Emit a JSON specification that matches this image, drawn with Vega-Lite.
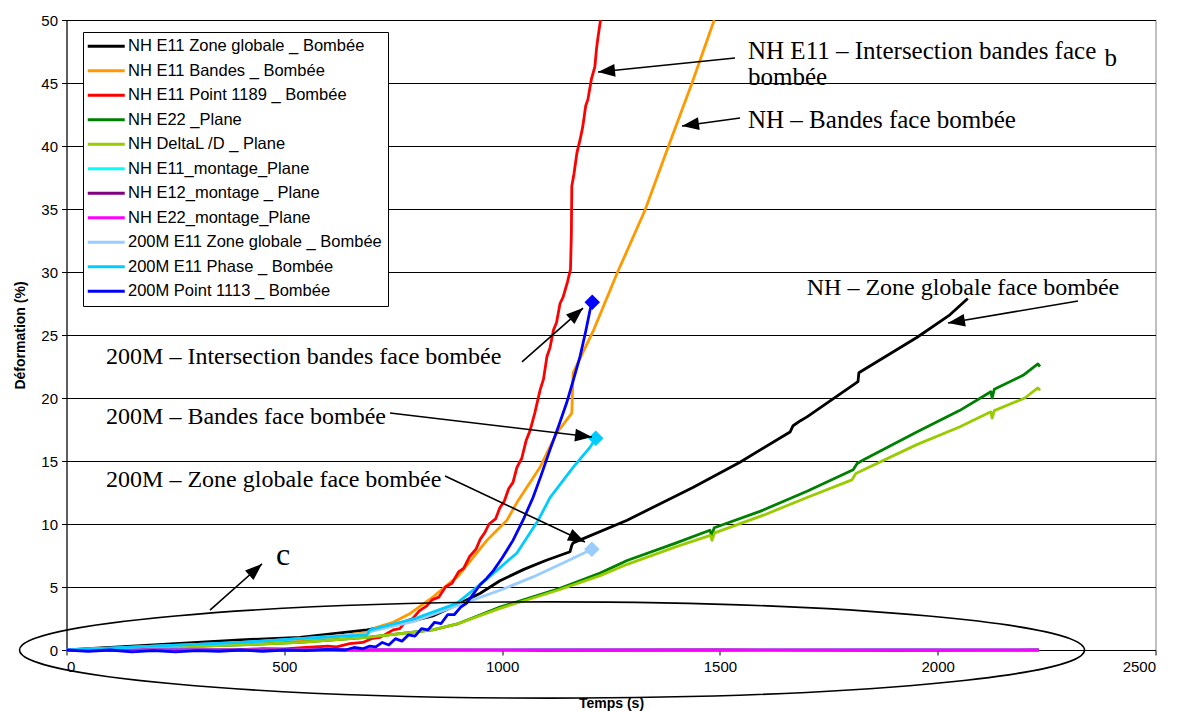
{
  "$schema": "https://vega.github.io/schema/vega-lite/v6.json",
  "width": 1089,
  "height": 630,
  "autosize": "none",
  "padding": {"left": 66.5, "top": 20, "right": 28.5, "bottom": 61},
  "background": "white",
  "config": {
    "view": {"stroke": "#808080", "strokeWidth": 1},
    "font": "Liberation Sans",
    "axis": {
      "domainColor": "#000000", "tickColor": "#000000", "labelColor": "#000000", "titleColor": "#000000",
      "labelFont": "Liberation Sans", "titleFont": "Liberation Sans", "labelFontSize": 15,
      "titleFontSize": 14, "titleFontWeight": "bold", "tickSize": 5, "gridColor": "#000000",
      "gridOpacity": 1, "gridWidth": 1, "domainWidth": 1, "labelPadding": 4
    }
  },
  "datasets": {
    "series": [
      {"s":"NH E11 Zone globale _ Bombée","t":0,"v":0},{"s":"NH E11 Zone globale _ Bombée","t":100,"v":0.2},{"s":"NH E11 Zone globale _ Bombée","t":200,"v":0.4},{"s":"NH E11 Zone globale _ Bombée","t":300,"v":0.6},{"s":"NH E11 Zone globale _ Bombée","t":400,"v":0.8},{"s":"NH E11 Zone globale _ Bombée","t":536,"v":1.0},{"s":"NH E11 Zone globale _ Bombée","t":690,"v":1.6},{"s":"NH E11 Zone globale _ Bombée","t":781,"v":2.2},{"s":"NH E11 Zone globale _ Bombée","t":841,"v":2.7},{"s":"NH E11 Zone globale _ Bombée","t":903,"v":3.7},{"s":"NH E11 Zone globale _ Bombée","t":950,"v":4.5},{"s":"NH E11 Zone globale _ Bombée","t":995,"v":5.5},{"s":"NH E11 Zone globale _ Bombée","t":1050,"v":6.4},{"s":"NH E11 Zone globale _ Bombée","t":1100,"v":7.1},{"s":"NH E11 Zone globale _ Bombée","t":1156,"v":7.8},{"s":"NH E11 Zone globale _ Bombée","t":1160,"v":8.3},{"s":"NH E11 Zone globale _ Bombée","t":1163,"v":8.5},{"s":"NH E11 Zone globale _ Bombée","t":1287,"v":10.3},{"s":"NH E11 Zone globale _ Bombée","t":1438,"v":12.9},{"s":"NH E11 Zone globale _ Bombée","t":1546,"v":14.9},{"s":"NH E11 Zone globale _ Bombée","t":1661,"v":17.3},{"s":"NH E11 Zone globale _ Bombée","t":1668,"v":17.8},{"s":"NH E11 Zone globale _ Bombée","t":1685,"v":18.2},{"s":"NH E11 Zone globale _ Bombée","t":1700,"v":18.5},{"s":"NH E11 Zone globale _ Bombée","t":1817,"v":21.3},{"s":"NH E11 Zone globale _ Bombée","t":1819,"v":22.0},{"s":"NH E11 Zone globale _ Bombée","t":1952,"v":24.8},{"s":"NH E11 Zone globale _ Bombée","t":2028,"v":26.6},{"s":"NH E11 Zone globale _ Bombée","t":2069,"v":27.9},
      {"s":"NH E11 Bandes _ Bombée","t":0,"v":0},{"s":"NH E11 Bandes _ Bombée","t":100,"v":0.1},{"s":"NH E11 Bandes _ Bombée","t":200,"v":0.25},{"s":"NH E11 Bandes _ Bombée","t":300,"v":0.4},{"s":"NH E11 Bandes _ Bombée","t":400,"v":0.55},{"s":"NH E11 Bandes _ Bombée","t":536,"v":0.8},{"s":"NH E11 Bandes _ Bombée","t":600,"v":1.0},{"s":"NH E11 Bandes _ Bombée","t":690,"v":1.4},{"s":"NH E11 Bandes _ Bombée","t":712,"v":1.8},{"s":"NH E11 Bandes _ Bombée","t":750,"v":2.2},{"s":"NH E11 Bandes _ Bombée","t":789,"v":2.9},{"s":"NH E11 Bandes _ Bombée","t":841,"v":4.2},{"s":"NH E11 Bandes _ Bombée","t":900,"v":5.9},{"s":"NH E11 Bandes _ Bombée","t":965,"v":8.7},{"s":"NH E11 Bandes _ Bombée","t":1011,"v":10.3},{"s":"NH E11 Bandes _ Bombée","t":1034,"v":11.7},{"s":"NH E11 Bandes _ Bombée","t":1087,"v":14.5},{"s":"NH E11 Bandes _ Bombée","t":1125,"v":17.2},{"s":"NH E11 Bandes _ Bombée","t":1160,"v":18.8},{"s":"NH E11 Bandes _ Bombée","t":1163,"v":22.0},{"s":"NH E11 Bandes _ Bombée","t":1209,"v":25.3},{"s":"NH E11 Bandes _ Bombée","t":1264,"v":29.9},{"s":"NH E11 Bandes _ Bombée","t":1328,"v":34.9},{"s":"NH E11 Bandes _ Bombée","t":1381,"v":39.9},{"s":"NH E11 Bandes _ Bombée","t":1436,"v":45.0},{"s":"NH E11 Bandes _ Bombée","t":1487,"v":50.0},
      {"s":"NH E11 Point 1189 _ Bombée","t":0,"v":0},{"s":"NH E11 Point 1189 _ Bombée","t":100,"v":0.02},{"s":"NH E11 Point 1189 _ Bombée","t":200,"v":0},{"s":"NH E11 Point 1189 _ Bombée","t":300,"v":0.05},{"s":"NH E11 Point 1189 _ Bombée","t":400,"v":0.03},{"s":"NH E11 Point 1189 _ Bombée","t":450,"v":0.1},{"s":"NH E11 Point 1189 _ Bombée","t":500,"v":0.08},{"s":"NH E11 Point 1189 _ Bombée","t":550,"v":0.2},{"s":"NH E11 Point 1189 _ Bombée","t":600,"v":0.3},{"s":"NH E11 Point 1189 _ Bombée","t":620,"v":0.25},{"s":"NH E11 Point 1189 _ Bombée","t":650,"v":0.5},{"s":"NH E11 Point 1189 _ Bombée","t":680,"v":0.6},{"s":"NH E11 Point 1189 _ Bombée","t":700,"v":0.9},{"s":"NH E11 Point 1189 _ Bombée","t":720,"v":1.0},{"s":"NH E11 Point 1189 _ Bombée","t":735,"v":1.3},{"s":"NH E11 Point 1189 _ Bombée","t":750,"v":1.6},{"s":"NH E11 Point 1189 _ Bombée","t":765,"v":1.7},{"s":"NH E11 Point 1189 _ Bombée","t":780,"v":2.3},{"s":"NH E11 Point 1189 _ Bombée","t":795,"v":2.5},{"s":"NH E11 Point 1189 _ Bombée","t":810,"v":3.1},{"s":"NH E11 Point 1189 _ Bombée","t":827,"v":3.5},{"s":"NH E11 Point 1189 _ Bombée","t":840,"v":4.0},{"s":"NH E11 Point 1189 _ Bombée","t":855,"v":4.2},{"s":"NH E11 Point 1189 _ Bombée","t":870,"v":5.0},{"s":"NH E11 Point 1189 _ Bombée","t":885,"v":5.3},{"s":"NH E11 Point 1189 _ Bombée","t":900,"v":6.2},{"s":"NH E11 Point 1189 _ Bombée","t":912,"v":6.5},{"s":"NH E11 Point 1189 _ Bombée","t":925,"v":7.4},{"s":"NH E11 Point 1189 _ Bombée","t":940,"v":8.0},{"s":"NH E11 Point 1189 _ Bombée","t":950,"v":8.8},{"s":"NH E11 Point 1189 _ Bombée","t":960,"v":9.3},{"s":"NH E11 Point 1189 _ Bombée","t":970,"v":10.0},{"s":"NH E11 Point 1189 _ Bombée","t":985,"v":10.4},{"s":"NH E11 Point 1189 _ Bombée","t":995,"v":11.3},{"s":"NH E11 Point 1189 _ Bombée","t":1005,"v":11.8},{"s":"NH E11 Point 1189 _ Bombée","t":1015,"v":12.8},{"s":"NH E11 Point 1189 _ Bombée","t":1025,"v":13.3},{"s":"NH E11 Point 1189 _ Bombée","t":1034,"v":14.5},{"s":"NH E11 Point 1189 _ Bombée","t":1045,"v":15.2},{"s":"NH E11 Point 1189 _ Bombée","t":1055,"v":16.6},{"s":"NH E11 Point 1189 _ Bombée","t":1064,"v":17.4},{"s":"NH E11 Point 1189 _ Bombée","t":1075,"v":18.8},{"s":"NH E11 Point 1189 _ Bombée","t":1087,"v":20.6},{"s":"NH E11 Point 1189 _ Bombée","t":1095,"v":21.5},{"s":"NH E11 Point 1189 _ Bombée","t":1103,"v":23.3},{"s":"NH E11 Point 1189 _ Bombée","t":1110,"v":24.0},{"s":"NH E11 Point 1189 _ Bombée","t":1118,"v":25.4},{"s":"NH E11 Point 1189 _ Bombée","t":1125,"v":26.0},{"s":"NH E11 Point 1189 _ Bombée","t":1133,"v":27.5},{"s":"NH E11 Point 1189 _ Bombée","t":1140,"v":28.0},{"s":"NH E11 Point 1189 _ Bombée","t":1150,"v":29.2},{"s":"NH E11 Point 1189 _ Bombée","t":1157,"v":30.2},{"s":"NH E11 Point 1189 _ Bombée","t":1159,"v":33.0},{"s":"NH E11 Point 1189 _ Bombée","t":1160,"v":36.8},{"s":"NH E11 Point 1189 _ Bombée","t":1165,"v":37.8},{"s":"NH E11 Point 1189 _ Bombée","t":1172,"v":39.5},{"s":"NH E11 Point 1189 _ Bombée","t":1179,"v":40.5},{"s":"NH E11 Point 1189 _ Bombée","t":1185,"v":41.5},{"s":"NH E11 Point 1189 _ Bombée","t":1192,"v":43.2},{"s":"NH E11 Point 1189 _ Bombée","t":1197,"v":43.7},{"s":"NH E11 Point 1189 _ Bombée","t":1205,"v":45.3},{"s":"NH E11 Point 1189 _ Bombée","t":1213,"v":46.3},{"s":"NH E11 Point 1189 _ Bombée","t":1217,"v":47.8},{"s":"NH E11 Point 1189 _ Bombée","t":1220,"v":48.6},{"s":"NH E11 Point 1189 _ Bombée","t":1226,"v":50.0},
      {"s":"NH E22 _Plane","t":0,"v":0},{"s":"NH E22 _Plane","t":200,"v":0.2},{"s":"NH E22 _Plane","t":400,"v":0.4},{"s":"NH E22 _Plane","t":536,"v":0.6},{"s":"NH E22 _Plane","t":690,"v":1.0},{"s":"NH E22 _Plane","t":841,"v":1.6},{"s":"NH E22 _Plane","t":900,"v":2.1},{"s":"NH E22 _Plane","t":995,"v":3.4},{"s":"NH E22 _Plane","t":1133,"v":4.9},{"s":"NH E22 _Plane","t":1225,"v":6.1},{"s":"NH E22 _Plane","t":1287,"v":7.1},{"s":"NH E22 _Plane","t":1400,"v":8.5},{"s":"NH E22 _Plane","t":1477,"v":9.5},{"s":"NH E22 _Plane","t":1481,"v":9.1},{"s":"NH E22 _Plane","t":1487,"v":9.7},{"s":"NH E22 _Plane","t":1592,"v":11.0},{"s":"NH E22 _Plane","t":1700,"v":12.6},{"s":"NH E22 _Plane","t":1806,"v":14.3},{"s":"NH E22 _Plane","t":1815,"v":14.8},{"s":"NH E22 _Plane","t":1830,"v":15.1},{"s":"NH E22 _Plane","t":1952,"v":17.3},{"s":"NH E22 _Plane","t":2050,"v":19.0},{"s":"NH E22 _Plane","t":2122,"v":20.5},{"s":"NH E22 _Plane","t":2125,"v":20.0},{"s":"NH E22 _Plane","t":2130,"v":20.7},{"s":"NH E22 _Plane","t":2196,"v":21.8},{"s":"NH E22 _Plane","t":2230,"v":22.7},{"s":"NH E22 _Plane","t":2235,"v":22.5},
      {"s":"NH DeltaL /D _ Plane","t":0,"v":0},{"s":"NH DeltaL /D _ Plane","t":200,"v":0.2},{"s":"NH DeltaL /D _ Plane","t":400,"v":0.4},{"s":"NH DeltaL /D _ Plane","t":536,"v":0.6},{"s":"NH DeltaL /D _ Plane","t":690,"v":1.0},{"s":"NH DeltaL /D _ Plane","t":841,"v":1.6},{"s":"NH DeltaL /D _ Plane","t":900,"v":2.1},{"s":"NH DeltaL /D _ Plane","t":995,"v":3.3},{"s":"NH DeltaL /D _ Plane","t":1133,"v":4.8},{"s":"NH DeltaL /D _ Plane","t":1225,"v":5.9},{"s":"NH DeltaL /D _ Plane","t":1287,"v":6.8},{"s":"NH DeltaL /D _ Plane","t":1400,"v":8.2},{"s":"NH DeltaL /D _ Plane","t":1478,"v":9.1},{"s":"NH DeltaL /D _ Plane","t":1482,"v":8.7},{"s":"NH DeltaL /D _ Plane","t":1488,"v":9.3},{"s":"NH DeltaL /D _ Plane","t":1600,"v":10.7},{"s":"NH DeltaL /D _ Plane","t":1700,"v":12.1},{"s":"NH DeltaL /D _ Plane","t":1803,"v":13.5},{"s":"NH DeltaL /D _ Plane","t":1812,"v":14.0},{"s":"NH DeltaL /D _ Plane","t":1830,"v":14.3},{"s":"NH DeltaL /D _ Plane","t":1952,"v":16.3},{"s":"NH DeltaL /D _ Plane","t":2050,"v":17.7},{"s":"NH DeltaL /D _ Plane","t":2122,"v":18.9},{"s":"NH DeltaL /D _ Plane","t":2125,"v":18.4},{"s":"NH DeltaL /D _ Plane","t":2130,"v":19.0},{"s":"NH DeltaL /D _ Plane","t":2200,"v":20.0},{"s":"NH DeltaL /D _ Plane","t":2230,"v":20.8},{"s":"NH DeltaL /D _ Plane","t":2235,"v":20.6},
      {"s":"NH E11_montage_Plane","t":0,"v":0},{"s":"NH E11_montage_Plane","t":300,"v":0.02},{"s":"NH E11_montage_Plane","t":700,"v":0},{"s":"NH E11_montage_Plane","t":1100,"v":0.02},{"s":"NH E11_montage_Plane","t":1500,"v":0},{"s":"NH E11_montage_Plane","t":1900,"v":0.02},{"s":"NH E11_montage_Plane","t":2232,"v":0},
      {"s":"NH E12_montage _ Plane","t":0,"v":0},{"s":"NH E12_montage _ Plane","t":300,"v":-0.02},{"s":"NH E12_montage _ Plane","t":700,"v":0},{"s":"NH E12_montage _ Plane","t":1100,"v":-0.02},{"s":"NH E12_montage _ Plane","t":1500,"v":0},{"s":"NH E12_montage _ Plane","t":1900,"v":-0.02},{"s":"NH E12_montage _ Plane","t":2232,"v":0},
      {"s":"NH E22_montage_Plane","t":0,"v":0},{"s":"NH E22_montage_Plane","t":300,"v":0.01},{"s":"NH E22_montage_Plane","t":700,"v":0},{"s":"NH E22_montage_Plane","t":1100,"v":0.01},{"s":"NH E22_montage_Plane","t":1500,"v":0},{"s":"NH E22_montage_Plane","t":1900,"v":0.01},{"s":"NH E22_montage_Plane","t":2232,"v":0},
      {"s":"200M E11 Zone globale _ Bombée","t":0,"v":0},{"s":"200M E11 Zone globale _ Bombée","t":100,"v":0.15},{"s":"200M E11 Zone globale _ Bombée","t":200,"v":0.3},{"s":"200M E11 Zone globale _ Bombée","t":300,"v":0.45},{"s":"200M E11 Zone globale _ Bombée","t":400,"v":0.6},{"s":"200M E11 Zone globale _ Bombée","t":536,"v":0.9},{"s":"200M E11 Zone globale _ Bombée","t":690,"v":1.3},{"s":"200M E11 Zone globale _ Bombée","t":697,"v":1.45},{"s":"200M E11 Zone globale _ Bombée","t":800,"v":2.3},{"s":"200M E11 Zone globale _ Bombée","t":903,"v":3.6},{"s":"200M E11 Zone globale _ Bombée","t":1000,"v":4.8},{"s":"200M E11 Zone globale _ Bombée","t":1071,"v":5.8},{"s":"200M E11 Zone globale _ Bombée","t":1140,"v":6.9},{"s":"200M E11 Zone globale _ Bombée","t":1206,"v":8.0},
      {"s":"200M E11 Phase _ Bombée","t":0,"v":0},{"s":"200M E11 Phase _ Bombée","t":100,"v":0.15},{"s":"200M E11 Phase _ Bombée","t":200,"v":0.3},{"s":"200M E11 Phase _ Bombée","t":300,"v":0.45},{"s":"200M E11 Phase _ Bombée","t":400,"v":0.6},{"s":"200M E11 Phase _ Bombée","t":536,"v":0.9},{"s":"200M E11 Phase _ Bombée","t":690,"v":1.2},{"s":"200M E11 Phase _ Bombée","t":697,"v":1.6},{"s":"200M E11 Phase _ Bombée","t":800,"v":2.5},{"s":"200M E11 Phase _ Bombée","t":896,"v":3.7},{"s":"200M E11 Phase _ Bombée","t":964,"v":5.6},{"s":"200M E11 Phase _ Bombée","t":1034,"v":7.7},{"s":"200M E11 Phase _ Bombée","t":1083,"v":10.3},{"s":"200M E11 Phase _ Bombée","t":1110,"v":12.1},{"s":"200M E11 Phase _ Bombée","t":1163,"v":14.5},{"s":"200M E11 Phase _ Bombée","t":1202,"v":16.1},{"s":"200M E11 Phase _ Bombée","t":1215,"v":16.8},
      {"s":"200M Point 1113 _ Bombée","t":0,"v":0},{"s":"200M Point 1113 _ Bombée","t":50,"v":-0.1},{"s":"200M Point 1113 _ Bombée","t":100,"v":0},{"s":"200M Point 1113 _ Bombée","t":150,"v":-0.15},{"s":"200M Point 1113 _ Bombée","t":200,"v":-0.05},{"s":"200M Point 1113 _ Bombée","t":250,"v":-0.15},{"s":"200M Point 1113 _ Bombée","t":300,"v":-0.05},{"s":"200M Point 1113 _ Bombée","t":350,"v":-0.1},{"s":"200M Point 1113 _ Bombée","t":400,"v":0},{"s":"200M Point 1113 _ Bombée","t":450,"v":-0.1},{"s":"200M Point 1113 _ Bombée","t":500,"v":0},{"s":"200M Point 1113 _ Bombée","t":550,"v":-0.05},{"s":"200M Point 1113 _ Bombée","t":600,"v":0.05},{"s":"200M Point 1113 _ Bombée","t":640,"v":0},{"s":"200M Point 1113 _ Bombée","t":660,"v":0.2},{"s":"200M Point 1113 _ Bombée","t":680,"v":0.1},{"s":"200M Point 1113 _ Bombée","t":695,"v":0.3},{"s":"200M Point 1113 _ Bombée","t":710,"v":0.25},{"s":"200M Point 1113 _ Bombée","t":725,"v":0.6},{"s":"200M Point 1113 _ Bombée","t":740,"v":0.4},{"s":"200M Point 1113 _ Bombée","t":755,"v":0.9},{"s":"200M Point 1113 _ Bombée","t":770,"v":0.7},{"s":"200M Point 1113 _ Bombée","t":785,"v":1.2},{"s":"200M Point 1113 _ Bombée","t":800,"v":1.1},{"s":"200M Point 1113 _ Bombée","t":815,"v":1.7},{"s":"200M Point 1113 _ Bombée","t":830,"v":1.6},{"s":"200M Point 1113 _ Bombée","t":845,"v":2.2},{"s":"200M Point 1113 _ Bombée","t":860,"v":2.1},{"s":"200M Point 1113 _ Bombée","t":875,"v":2.8},{"s":"200M Point 1113 _ Bombée","t":890,"v":2.8},{"s":"200M Point 1113 _ Bombée","t":905,"v":3.4},{"s":"200M Point 1113 _ Bombée","t":918,"v":3.7},{"s":"200M Point 1113 _ Bombée","t":935,"v":4.5},{"s":"200M Point 1113 _ Bombée","t":950,"v":5.2},{"s":"200M Point 1113 _ Bombée","t":965,"v":5.7},{"s":"200M Point 1113 _ Bombée","t":980,"v":6.3},{"s":"200M Point 1113 _ Bombée","t":1000,"v":7.3},{"s":"200M Point 1113 _ Bombée","t":1025,"v":8.7},{"s":"200M Point 1113 _ Bombée","t":1048,"v":10.3},{"s":"200M Point 1113 _ Bombée","t":1071,"v":12.1},{"s":"200M Point 1113 _ Bombée","t":1090,"v":13.9},{"s":"200M Point 1113 _ Bombée","t":1110,"v":15.9},{"s":"200M Point 1113 _ Bombée","t":1130,"v":17.8},{"s":"200M Point 1113 _ Bombée","t":1148,"v":19.6},{"s":"200M Point 1113 _ Bombée","t":1165,"v":21.6},{"s":"200M Point 1113 _ Bombée","t":1179,"v":23.3},{"s":"200M Point 1113 _ Bombée","t":1192,"v":25.3},{"s":"200M Point 1113 _ Bombée","t":1202,"v":27.0},{"s":"200M Point 1113 _ Bombée","t":1207,"v":27.6}
    ],
    "ends": [
      {"s":"200M E11 Zone globale _ Bombée","t":1206,"v":8.0},
      {"s":"200M E11 Phase _ Bombée","t":1215,"v":16.8},
      {"s":"200M Point 1113 _ Bombée","t":1207,"v":27.6}
    ],
    "arrows": [
      {"t":1534.7,"v":46.98,"t2":1220.2,"v2":45.87,"angle":174.2},
      {"t":1546.2,"v":42.22,"t2":1413.0,"v2":41.59,"angle":172.1},
      {"t":2322.1,"v":27.70,"t2":2023.6,"v2":25.95,"angle":170.4},
      {"t":1045.7,"v":22.86,"t2":1185.7,"v2":27.14,"angle":318.5},
      {"t":742.7,"v":18.81,"t2":1206.4,"v2":16.90,"angle":6.8},
      {"t":869.1,"v":13.81,"t2":1190.3,"v2":8.57,"angle":25.2},
      {"t":329.4,"v":3.17,"t2":448.8,"v2":6.83,"angle":318.5}
    ],
    "toplabels": [
      {"t":1564.5,"v":46.94,"txt":"NH E11 – Intersection bandes face"},
      {"t":2383.0,"v":46.35,"txt":"b"},
      {"t":1564.5,"v":44.84,"txt":"bombée"},
      {"t":1564.5,"v":41.40,"txt":"NH – Bandes face bombée"}
    ],
    "labels": [
      {"t":1699.3,"v":28.17,"txt":"NH – Zone globale face bombée"},
      {"t":90.9,"v":22.70,"txt":"200M – Intersection bandes face bombée"},
      {"t":90.9,"v":17.94,"txt":"200M – Bandes face bombée"},
      {"t":90.9,"v":12.94,"txt":"200M – Zone globale face bombée"}
    ],
    "letter": [{"t":481,"v":6.75,"txt":"c"}],
    "oval": [{"t":1114.6,"v":0}]
  },
  "layer": [
    {
      "data": {"name": "series"},
      "mark": {"type": "line", "strokeWidth": 2.8, "strokeJoin": "round"},
      "encoding": {
        "x": {"field": "t", "type": "quantitative", "scale": {"domain": [0, 2500], "nice": false},
              "axis": {"title": "Temps (s)", "values": [0, 500, 1000, 1500, 2000, 2500], "format": "d", "grid": false, "titlePadding": 22}},
        "y": {"field": "v", "type": "quantitative", "scale": {"domain": [0, 50], "nice": false},
              "axis": {"title": "Déformation (%)", "values": [0, 5, 10, 15, 20, 25, 30, 35, 40, 45, 50], "format": "d", "grid": true, "titlePadding": 13}},
        "color": {
          "field": "s", "type": "nominal",
          "scale": {
            "domain": ["NH E11 Zone globale _ Bombée", "NH E11 Bandes _ Bombée", "NH E11 Point 1189 _ Bombée", "NH E22 _Plane", "NH DeltaL /D _ Plane", "NH E11_montage_Plane", "NH E12_montage _ Plane", "NH E22_montage_Plane", "200M E11 Zone globale _ Bombée", "200M E11 Phase _ Bombée", "200M Point 1113 _ Bombée"],
            "range": ["#000000", "#FF9900", "#FF0000", "#008000", "#99CC00", "#00FFFF", "#800080", "#FF00FF", "#99CCFF", "#00CCFF", "#0000FF"]
          },
          "legend": {
            "title": null, "orient": "none", "legendX": 16.5, "legendY": 12,
            "fillColor": "#FFFFFF", "strokeColor": "#000000", "padding": 6,
            "labelFont": "Liberation Sans", "labelFontSize": 16.5, "labelColor": "#000000", "labelLimit": 500,
            "symbolType": "M -1.46 0 H 4.23", "symbolSize": 169, "symbolStrokeWidth": 3,
            "labelOffset": 22.5, "rowPadding": 7.5
          }
        }
      }
    },
    {
      "data": {"name": "ends"},
      "mark": {"type": "point", "shape": "diamond", "filled": true, "size": 240, "opacity": 1},
      "encoding": {
        "x": {"field": "t", "type": "quantitative", "title": "Temps (s)"},
        "y": {"field": "v", "type": "quantitative", "title": "Déformation (%)"},
        "fill": {"field": "s", "type": "nominal", "legend": null,
          "scale": {"domain": ["200M E11 Zone globale _ Bombée", "200M E11 Phase _ Bombée", "200M Point 1113 _ Bombée"], "range": ["#99CCFF", "#00CCFF", "#0000FF"]}}
      }
    },
    {
      "data": {"name": "oval"},
      "mark": {"type": "point", "filled": false, "stroke": "#000000", "strokeWidth": 1.6, "opacity": 1,
               "shape": "M -1 0 C -1 -0.0499 -0.5523 -0.0903 0 -0.0903 C 0.5523 -0.0903 1 -0.0499 1 0 C 1 0.0499 0.5523 0.0903 0 0.0903 C -0.5523 0.0903 -1 0.0499 -1 0 Z"},
      "encoding": {
        "x": {"field": "t", "type": "quantitative", "title": "Temps (s)"},
        "y": {"field": "v", "type": "quantitative", "title": "Déformation (%)"},
        "size": {"value": 1134225}
      }
    },
    {
      "data": {"name": "arrows"},
      "mark": {"type": "rule", "stroke": "#000000", "strokeWidth": 1.6},
      "encoding": {
        "x": {"field": "t", "type": "quantitative", "title": "Temps (s)"},
        "y": {"field": "v", "type": "quantitative", "title": "Déformation (%)"},
        "x2": {"field": "t2"},
        "y2": {"field": "v2"}
      }
    },
    {
      "data": {"name": "arrows"},
      "mark": {"type": "point", "filled": true, "fill": "#000000", "strokeWidth": 0, "opacity": 1,
               "shape": "M 0 0 L -2 -0.75 L -2 0.75 Z", "size": 289},
      "encoding": {
        "x": {"field": "t2", "type": "quantitative", "title": "Temps (s)"},
        "y": {"field": "v2", "type": "quantitative", "title": "Déformation (%)"},
        "angle": {"field": "angle", "type": "quantitative", "scale": null}
      }
    },
    {
      "data": {"name": "toplabels"},
      "mark": {"type": "text", "font": "Liberation Serif", "fontSize": 25, "align": "left", "baseline": "alphabetic", "color": "#000000"},
      "encoding": {
        "x": {"field": "t", "type": "quantitative", "title": "Temps (s)"},
        "y": {"field": "v", "type": "quantitative", "title": "Déformation (%)"},
        "text": {"field": "txt"}
      }
    },
    {
      "data": {"name": "labels"},
      "mark": {"type": "text", "font": "Liberation Serif", "fontSize": 24, "align": "left", "baseline": "alphabetic", "color": "#000000"},
      "encoding": {
        "x": {"field": "t", "type": "quantitative", "title": "Temps (s)"},
        "y": {"field": "v", "type": "quantitative", "title": "Déformation (%)"},
        "text": {"field": "txt"}
      }
    },
    {
      "data": {"name": "letter"},
      "mark": {"type": "text", "font": "Liberation Serif", "fontSize": 32, "align": "left", "baseline": "alphabetic", "color": "#000000"},
      "encoding": {
        "x": {"field": "t", "type": "quantitative", "title": "Temps (s)"},
        "y": {"field": "v", "type": "quantitative", "title": "Déformation (%)"},
        "text": {"field": "txt"}
      }
    }
  ]
}
